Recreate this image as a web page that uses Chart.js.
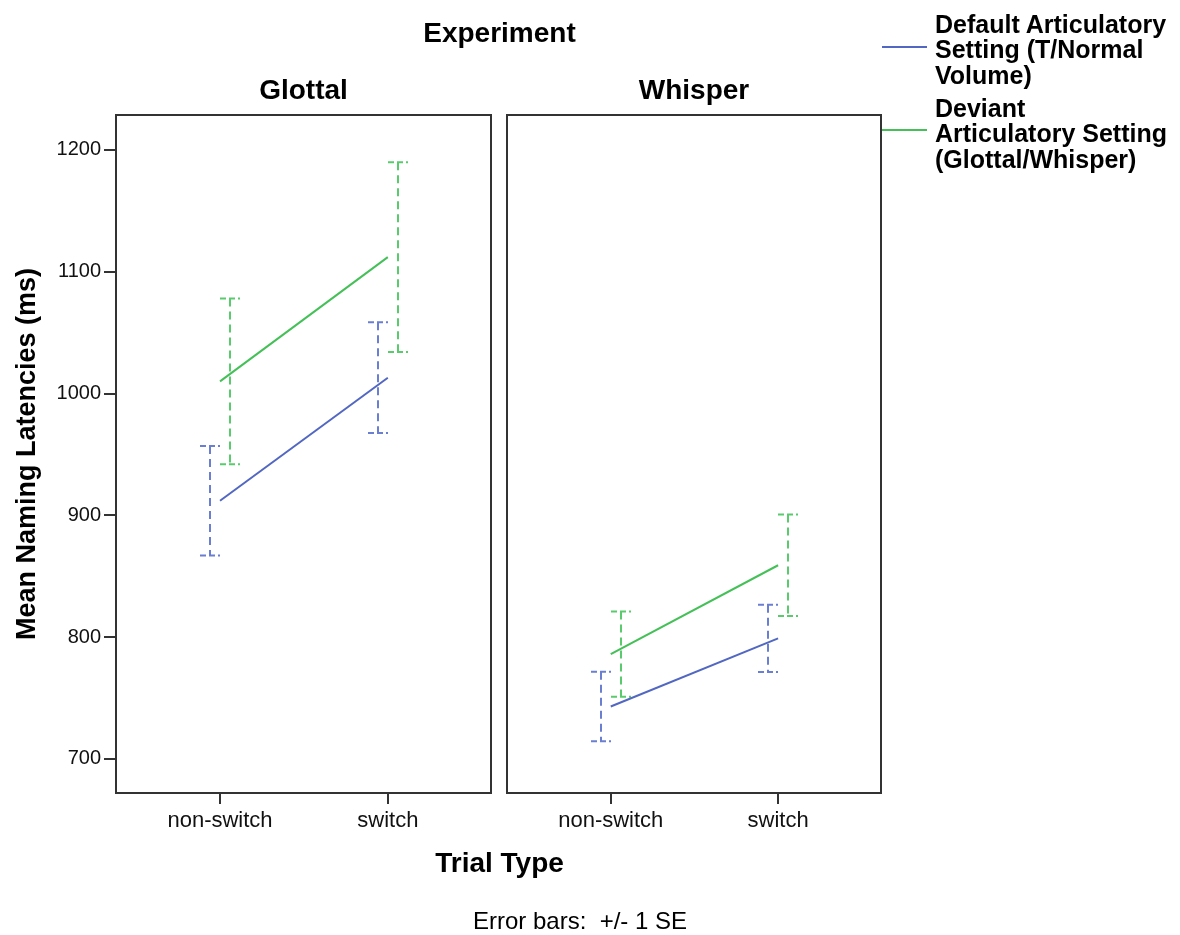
<!DOCTYPE html>
<html>
<head>
<meta charset="utf-8">
<script src="https://cdn.jsdelivr.net/npm/chart.js@4.4.1/dist/chart.umd.min.js"></script>
<style>
  html, body { margin: 0; padding: 0; background: #fff; }
  #wrap { position: relative; width: 1180px; height: 935px; overflow: hidden;
          font-family: "Liberation Sans", Arial, sans-serif; color: #000; }
  canvas { position: absolute; left: 0; top: 0; }
  .t { position: absolute; white-space: pre; }
  .sw { position: absolute; height: 2px; }
</style>
</head>
<body>
<div id="wrap">
  <canvas id="c1" width="1180" height="935"></canvas>
  <canvas id="c2" width="1180" height="935"></canvas>
</div>
<script>
// ---- data ----
const experiments = ['Glottal', 'Whisper'];
const trialTypes = ['non-switch', 'switch'];
const yTicks = [700, 800, 900, 1000, 1100, 1200];
const seriesLines = [
  ['Default Articulatory', 'Setting (T/Normal', 'Volume)'],
  ['Deviant', 'Articulatory Setting', '(Glottal/Whisper)']
];
// mean naming latencies (ms) and standard errors per trial type
const glottalDefault   = [912, 1013];
const glottalDefaultSE = [45, 45.5];
const glottalDeviant   = [1010, 1112];
const glottalDeviantSE = [68, 78];
const whisperDefault   = [743, 799];
const whisperDefaultSE = [28.5, 27.6];
const whisperDeviant   = [786, 859];
const whisperDeviantSE = [35, 41.6];

// ---- styles ----
const FONT = '"Liberation Sans", Arial, sans-serif';
const BLUE = '#5167c2';
const GREEN = '#45c058';
const BLUE_E = '#6a7fd1';
const GREEN_E = '#5acb6c';

const wrap = document.getElementById('wrap');

function addText(str, x, baseline, size, weight, align, lh) {
  lh = lh || size;
  const d = document.createElement('div');
  d.className = 't';
  d.textContent = str;
  d.style.font = weight + ' ' + size + 'px ' + FONT;
  d.style.lineHeight = lh + 'px';
  d.style.top = (baseline - lh / 2 - 0.3465 * size) + 'px';
  d.style.left = x + 'px';
  if (align === 'center') d.style.transform = 'translateX(-50%)';
  wrap.appendChild(d);
  return d;
}

function toPts(vals) {
  return trialTypes.map((_, j) => ({ x: j, y: vals[j] }));
}

// dashed +/- 1 SE bars, dodged sideways from the category position
const errorBars = {
  id: 'errorBars',
  beforeDatasetsDraw(chart) {
    const { ctx } = chart;
    const xs = chart.scales.x, ys = chart.scales.y;
    chart.data.datasets.forEach(ds => {
      if (!ds.se) return;
      ds.data.forEach((p, j) => {
        const px = Math.round(xs.getPixelForValue(p.x) + ds.errorDodge);
        const top = ys.getPixelForValue(p.y + ds.se[j]);
        const bot = ys.getPixelForValue(p.y - ds.se[j]);
        ctx.save();
        ctx.strokeStyle = ds.errorColor;
        ctx.lineWidth = 2;
        ctx.setLineDash([8, 5]);
        ctx.beginPath();
        ctx.moveTo(px, top);
        ctx.lineTo(px, bot);
        ctx.stroke();
        ctx.setLineDash([6, 3]);
        ctx.beginPath();
        ctx.moveTo(px - 10, top); ctx.lineTo(px + 10, top);
        ctx.moveTo(px - 10, bot); ctx.lineTo(px + 10, bot);
        ctx.stroke();
        ctx.restore();
      });
    });
  }
};

// panel frame around the plotting area
const frame = {
  id: 'frame',
  afterDatasetsDraw(chart) {
    const { ctx, chartArea: a } = chart;
    ctx.save();
    ctx.strokeStyle = '#333';
    ctx.lineWidth = 2;
    ctx.strokeRect(a.left, a.top, a.right - a.left, a.bottom - a.top);
    ctx.restore();
  }
};

function makePanel(id, defVals, defSE, devVals, devSE, showY, padLeft, padRight) {
  const yScale = {
    display: showY,
    min: 672,
    max: 1228.7,
    afterBuildTicks: s => { s.ticks = yTicks.map(v => ({ value: v })); },
    ticks: { callback: v => String(v), font: { family: FONT, size: 20 }, color: '#111', padding: 3 },
    grid: { drawOnChartArea: false, drawTicks: true, tickLength: 12, color: '#333', lineWidth: 2 },
    border: { display: false },
    title: {
      display: true,
      text: 'Mean Naming Latencies (ms)',
      font: { family: FONT, size: 27, weight: 'bold' },
      color: '#000',
      padding: { top: 11, bottom: 0 }
    }
  };
  if (showY) yScale.afterFit = s => { s.width = 116; };

  return new Chart(document.getElementById(id), {
    type: 'line',
    data: {
      datasets: [
        { label: seriesLines[0].join(' '), data: toPts(defVals), se: defSE, errorDodge: -10,
          errorColor: BLUE_E, borderColor: BLUE, borderWidth: 2, pointRadius: 0, tension: 0, fill: false },
        { label: seriesLines[1].join(' '), data: toPts(devVals), se: devSE, errorDodge: 10,
          errorColor: GREEN_E, borderColor: GREEN, borderWidth: 2, pointRadius: 0, tension: 0, fill: false }
      ]
    },
    options: {
      responsive: false,
      animation: false,
      devicePixelRatio: 1,
      layout: { padding: { left: padLeft, right: padRight, top: 115, bottom: 0 } },
      plugins: { legend: { display: false }, tooltip: { enabled: false }, title: { display: false } },
      scales: {
        x: {
          type: 'linear',
          min: -0.62,
          max: 1.615,
          afterBuildTicks: s => { s.ticks = trialTypes.map((_, j) => ({ value: j })); },
          afterFit: s => { s.height = 142; },
          ticks: { callback: v => trialTypes[v], font: { family: FONT, size: 22 }, color: '#111',
                   padding: 4, maxRotation: 0, autoSkip: false },
          grid: { drawOnChartArea: false, drawTicks: true, tickLength: 11, color: '#333', lineWidth: 2 },
          border: { display: false }
        },
        y: yScale
      }
    },
    plugins: [errorBars, frame]
  });
}

makePanel('c1', glottalDefault, glottalDefaultSE, glottalDeviant, glottalDeviantSE, true, 0, 689);
makePanel('c2', whisperDefault, whisperDefaultSE, whisperDeviant, whisperDeviantSE, false, 507, 299);

// titles
addText('Experiment', 499.5, 43, 28, 'bold', 'center');
addText(experiments[0], 303.5, 100, 28, 'bold', 'center');
addText(experiments[1], 694, 100, 28, 'bold', 'center');
addText('Trial Type', 499.5, 873, 28, 'bold', 'center');
addText('Error bars:  +/- 1 SE', 580, 929, 24, 'normal', 'center');

// legend
const legendColors = [BLUE, GREEN];
const legendBaselines = [33, 117];
const legendSwatchY = [46, 129];
seriesLines.forEach((lines, i) => {
  const lh = 25.5;
  const d = document.createElement('div');
  d.className = 't';
  d.textContent = lines.join('\n');
  d.style.font = 'bold 25px ' + FONT;
  d.style.lineHeight = lh + 'px';
  d.style.left = '935px';
  d.style.top = (legendBaselines[i] - lh / 2 - 0.3465 * 25) + 'px';
  wrap.appendChild(d);
  const s = document.createElement('div');
  s.className = 'sw';
  s.style.left = '882px';
  s.style.width = '45px';
  s.style.top = legendSwatchY[i] + 'px';
  s.style.background = legendColors[i];
  wrap.appendChild(s);
});
</script>
</body>
</html>
